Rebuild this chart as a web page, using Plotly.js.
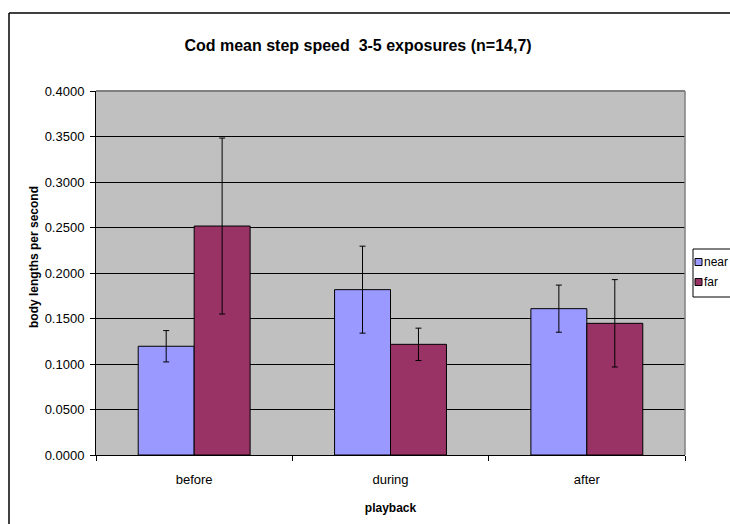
<!DOCTYPE html>
<html>
<head>
<meta charset="utf-8">
<script src="https://cdn.plot.ly/plotly-3.0.1.min.js"></script>
<style>
  html, body { margin: 0; padding: 0; background: #ffffff; overflow: hidden; }
  #chart { width: 730px; height: 524px; }
</style>
</head>
<body>
<div id="chart"></div>
<script>
// ---- data ----
var categories = ["before", "during", "after"];
var seriesNames = ["near", "far"];
var nearValues = [0.1195, 0.1817, 0.1608];
var nearErrors = [0.0172, 0.0478, 0.0259];
var farValues = [0.2516, 0.1216, 0.1447];
var farErrors = [0.0967, 0.0178, 0.0480];
var titleText = "Cod mean step speed  3-5 exposures (n=14,7)";
var xTitle = "playback";
var yTitle = "body lengths per second";

// ---- styling ----
var W = 730, H = 524;
var M = { l: 96, r: 45, t: 91, b: 69 };
var plotW = W - M.l - M.r, plotH = H - M.t - M.b;
function px(x) { return (x - M.l) / plotW; }
function py(y) { return (H - M.b - y) / plotH; }
var colors = ["#9999FF", "#993366"];
var FONT = "Liberation Sans, Arial, Helvetica, sans-serif";

function barTrace(name, vals, errs, color) {
  return {
    type: "bar",
    name: name,
    x: categories,
    y: vals,
    marker: { color: color, line: { color: "#000000", width: 1 } },
    error_y: { type: "data", array: errs, visible: true, color: "#000000", thickness: 1, width: 3 },
    showlegend: false,
    hoverinfo: "x+y"
  };
}

var data = [
  barTrace(seriesNames[0], nearValues, nearErrors, colors[0]),
  barTrace(seriesNames[1], farValues, farErrors, colors[1])
];

// custom legend (box runs off the right edge like the original)
var legBox = { x0: 693, y0: 249, x1: 731, y1: 297 };
var shapes = [
  // outer chart border: left and top edges visible
  { type: "line", xref: "paper", yref: "paper", x0: px(9), y0: py(13), x1: px(9), y1: py(524),
    line: { color: "#000000", width: 1.5 }, layer: "above" },
  { type: "line", xref: "paper", yref: "paper", x0: px(9), y0: py(13), x1: px(730), y1: py(13),
    line: { color: "#000000", width: 1.5 }, layer: "above" },
  // plot area border top/right (gray)
  { type: "line", xref: "paper", yref: "paper", x0: 0, x1: 1, y0: 1, y1: 1,
    line: { color: "#808080", width: 2 }, layer: "above" },
  { type: "line", xref: "paper", yref: "paper", x0: 1, x1: 1, y0: 0, y1: 1,
    line: { color: "#808080", width: 1.5 }, layer: "above" },
  // legend box
  { type: "path", xref: "paper", yref: "paper",
    path: "M " + px(731) + "," + py(legBox.y0) + " L " + px(legBox.x0) + "," + py(legBox.y0) +
          " L " + px(legBox.x0) + "," + py(legBox.y1) + " L " + px(731) + "," + py(legBox.y1),
    line: { color: "#000000", width: 1 }, fillcolor: "#ffffff", layer: "above" }
];
var annotations = [
  { xref: "paper", yref: "paper", x: px(34), y: py(257), text: "<b>" + yTitle + "</b>", textangle: -90,
    showarrow: false, xanchor: "center", yanchor: "middle", font: { family: FONT, size: 12, color: "#000000" } }
];
var legendRowY = [262, 282];
for (var i = 0; i < seriesNames.length; i++) {
  shapes.push({ type: "rect", xref: "paper", yref: "paper",
    x0: px(695), x1: px(702), y0: py(legendRowY[i] - 3.5), y1: py(legendRowY[i] + 3.5),
    line: { color: "#000000", width: 1 }, fillcolor: colors[i], layer: "above" });
  annotations.push({ xref: "paper", yref: "paper", x: px(702), y: py(legendRowY[i]), text: seriesNames[i],
    showarrow: false, xanchor: "left", yanchor: "middle", font: { family: FONT, size: 12, color: "#000000" } });
}

var layout = {
  width: W, height: H,
  margin: M,
  paper_bgcolor: "#ffffff",
  plot_bgcolor: "#C0C0C0",
  font: { family: FONT, size: 13, color: "#000000" },
  title: { text: "<b>" + titleText + "</b>", xref: "container", yref: "container",
           x: 358 / W, y: 1 - 45 / H, xanchor: "center", yanchor: "middle",
           font: { family: FONT, size: 16, color: "#000000" } },
  barmode: "group",
  bargap: 0.43,
  bargroupgap: 0,
  showlegend: false,
  xaxis: {
    type: "category",
    title: { text: "<b>" + xTitle + "</b>", font: { family: FONT, size: 12 }, standoff: 18 },
    showline: true, linecolor: "#000000", linewidth: 1,
    ticks: "outside", ticklen: 5, tickcolor: "#000000", tickson: "boundaries",
    showgrid: false, zeroline: false,
    tickfont: { family: FONT, size: 13 },
    ticklabelstandoff: 12
  },
  yaxis: {
    range: [0, 0.4], dtick: 0.05, tick0: 0, tickformat: ".4f",
    showline: true, linecolor: "#000000", linewidth: 1,
    ticks: "outside", ticklen: 5, tickcolor: "#000000",
    showgrid: true, gridcolor: "#000000", gridwidth: 1,
    zeroline: false,
    tickfont: { family: FONT, size: 13 },
    ticklabelstandoff: 3
  },
  shapes: shapes,
  annotations: annotations
};

Plotly.newPlot("chart", data, layout, { displayModeBar: false, staticPlot: true });
</script>
</body>
</html>
